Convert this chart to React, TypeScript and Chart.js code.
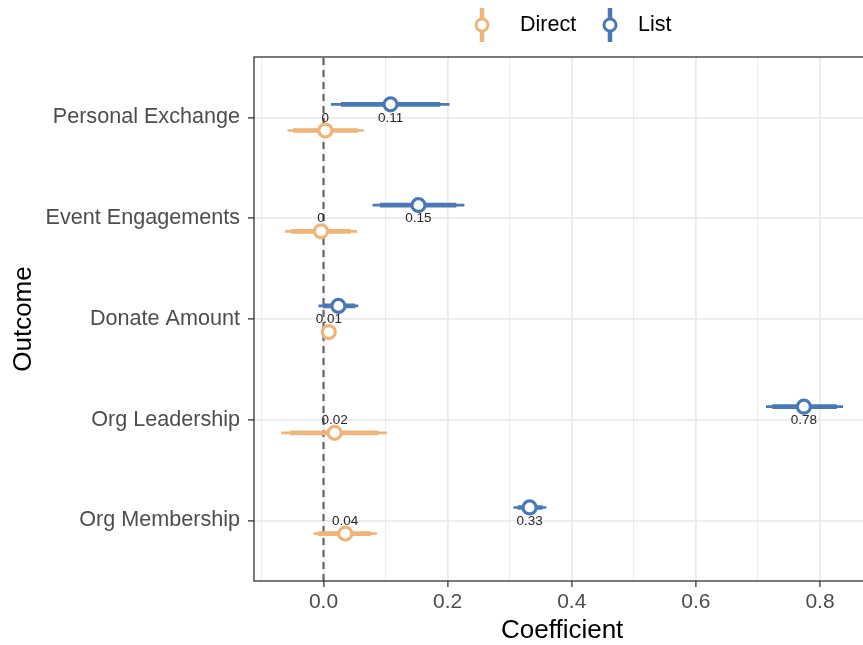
import React, { useEffect, useRef } from 'react';
import { Chart, registerables } from 'chart.js';

Chart.register(...registerables);

// ---- data (top-to-bottom order of the y axis) ----
const outcomes = ['Personal Exchange', 'Event Engagements', 'Donate Amount', 'Org Leadership', 'Org Membership'];

const listEst = [0.108, 0.153, 0.024, 0.774, 0.332];
const listLo95 = [0.012, 0.079, -0.008, 0.713, 0.306];
const listHi95 = [0.203, 0.227, 0.056, 0.837, 0.359];
const listLo90 = [0.028, 0.091, -0.001, 0.723, 0.313];
const listHi90 = [0.188, 0.214, 0.051, 0.827, 0.353];
const listLabels = ['0.11', '0.15', '', '0.78', '0.33'];

const directEst = [0.003, -0.004, 0.0085, 0.018, 0.035];
const directLo95 = [-0.058, -0.062, 0.001, -0.068, -0.016];
const directHi95 = [0.065, 0.054, 0.016, 0.102, 0.086];
const directLo90 = [-0.049, -0.052, 0.003, -0.054, -0.009];
const directHi90 = [0.055, 0.044, 0.014, 0.088, 0.076];
const directLabels = ['0', '0', '0.01', '0.02', '0.04'];

const xGridValues = [-0.1, 0, 0.1, 0.2, 0.3, 0.4, 0.5, 0.6, 0.7, 0.8];
const xMajorTicks = [0, 0.2, 0.4, 0.6, 0.8];

const seriesNames = ['Direct', 'List'];

// ---- styles ----
const BLUE = '#4A78B5';
const ORANGE = '#EFB47A';
const DODGE = 0.13;
const FONT = '"Liberation Sans", Arial, Helvetica, sans-serif';

const catY = (i: number) => outcomes.length - i;

function segments(lo: number[], hi: number[], off: number) {
  const pts: any[] = [];
  lo.forEach((l, i) => {
    const y = catY(i) + off;
    pts.push({ x: l, y }, { x: hi[i], y }, { x: null, y: null });
  });
  return pts;
}

function points(est: number[], off: number) {
  return est.map((v, i) => ({ x: v, y: catY(i) + off }));
}

const series = [
  { est: directEst, lo95: directLo95, hi95: directHi95, lo90: directLo90, hi90: directHi90, labels: directLabels, off: -DODGE, color: ORANGE },
  { est: listEst, lo95: listLo95, hi95: listHi95, lo90: listLo90, hi90: listHi90, labels: listLabels, off: DODGE, color: BLUE },
];

const isMajor = (v: number) => xMajorTicks.includes(v);

const labelPlugin = {
  id: 'estLabels',
  afterDatasetsDraw(chart: any) {
    const { ctx, scales } = chart;
    ctx.save();
    ctx.font = `13.5px ${FONT}`;
    ctx.fillStyle = '#262626';
    ctx.textAlign = 'center';
    ctx.textBaseline = 'middle';
    series.forEach((s) => {
      s.est.forEach((v, i) => {
        if (!s.labels[i]) return;
        ctx.fillText(s.labels[i], scales.x.getPixelForValue(v), scales.y.getPixelForValue(catY(i)) + 0.5);
      });
    });
    ctx.restore();
  },
};

const borderPlugin = {
  id: 'panelBorder',
  afterDraw(chart: any) {
    const { ctx, chartArea } = chart;
    ctx.save();
    ctx.strokeStyle = '#333333';
    ctx.lineWidth = 1.3;
    ctx.strokeRect(chartArea.left, chartArea.top, chartArea.right - chartArea.left, chartArea.bottom - chartArea.top);
    ctx.restore();
  },
};

function LegendSymbol({ color }: { color: string }) {
  return (
    <svg width={20} height={36} style={{ display: 'block' }}>
      <line x1={10} y1={1} x2={10} y2={35} stroke={color} strokeWidth={4.5} />
      <circle cx={10} cy={18} r={6} fill="#ffffff" stroke={color} strokeWidth={3} />
    </svg>
  );
}

export default function App() {
  const canvasRef = useRef<HTMLCanvasElement | null>(null);

  useEffect(() => {
    if (!canvasRef.current) return;
    Chart.defaults.font.family = FONT;
    const datasets: any[] = [
      {
        label: 'zero',
        data: [{ x: 0, y: 0.4 }, { x: 0, y: 5.6 }],
        showLine: true,
        borderColor: '#666666',
        borderWidth: 2.2,
        borderDash: [7, 5],
        pointRadius: 0,
        order: 5,
      },
    ];
    series.forEach((s, k) => {
      datasets.push({
        label: seriesNames[k] + ' 95',
        data: segments(s.lo95, s.hi95, s.off),
        showLine: true,
        spanGaps: false,
        borderColor: s.color,
        borderWidth: 2.6,
        pointRadius: 0,
        order: 4,
      });
      datasets.push({
        label: seriesNames[k] + ' 90',
        data: segments(s.lo90, s.hi90, s.off),
        showLine: true,
        spanGaps: false,
        borderColor: s.color,
        borderWidth: 4.6,
        pointRadius: 0,
        order: 3,
      });
      datasets.push({
        label: seriesNames[k],
        data: points(s.est, s.off),
        showLine: false,
        pointRadius: 6.5,
        pointBorderWidth: 3.2,
        pointBackgroundColor: '#ffffff',
        pointBorderColor: s.color,
        order: 1,
      });
    });

    const chart = new Chart(canvasRef.current, {
      type: 'scatter',
      data: { datasets },
      plugins: [labelPlugin, borderPlugin],
      options: {
        animation: false,
        responsive: false,
        devicePixelRatio: 1,
        layout: { padding: { top: 57, left: 0, right: 4, bottom: 0 } },
        plugins: { legend: { display: false }, tooltip: { enabled: false } },
        scales: {
          x: {
            type: 'linear',
            min: -0.112,
            max: 0.881,
            afterBuildTicks: (s: any) => {
              s.ticks = xGridValues.map((v) => ({ value: v }));
            },
            afterFit: (s: any) => {
              s.height = 64;
            },
            ticks: {
              autoSkip: false,
              maxRotation: 0,
              padding: 3,
              color: '#4D4D4D',
              font: { size: 21 },
              callback: (v: any) => (isMajor(v) ? Number(v).toFixed(1) : ''),
            },
            grid: {
              color: '#EBEBEB',
              lineWidth: (c: any) => (c.tick && isMajor(c.tick.value) ? 1.8 : 0.9),
              tickColor: (c: any) => (c.tick && isMajor(c.tick.value) ? '#333333' : 'rgba(0,0,0,0)'),
              tickLength: 6,
              tickWidth: 1.3,
            },
            border: { display: false },
            title: { display: true, text: 'Coefficient', color: '#000000', font: { size: 26 }, padding: { top: 0, bottom: -1 } },
          },
          y: {
            type: 'linear',
            min: 0.4,
            max: 5.6,
            afterBuildTicks: (s: any) => {
              s.ticks = outcomes.map((_, i) => ({ value: catY(i) })).reverse();
            },
            afterFit: (s: any) => {
              s.width = 254;
            },
            ticks: {
              autoSkip: false,
              padding: 8,
              color: '#4D4D4D',
              font: { size: 21.6 },
              callback: (v: any) => outcomes[outcomes.length - Number(v)],
            },
            grid: {
              color: '#EBEBEB',
              lineWidth: 1.8,
              tickColor: '#333333',
              tickLength: 6,
              tickWidth: 1.3,
            },
            border: { display: false },
            title: { display: true, text: 'Outcome', color: '#000000', font: { size: 26 }, padding: { top: 8, bottom: 0 } },
          },
        },
      } as any,
    });
    return () => chart.destroy();
  }, []);

  const legendText: React.CSSProperties = {
    position: 'absolute',
    top: 14,
    fontFamily: FONT,
    fontSize: 21.5,
    lineHeight: '21px',
    color: '#000',
    whiteSpace: 'nowrap',
  };

  return (
    <div style={{ position: 'absolute', left: 0, top: 0, width: 863, height: 645, overflow: 'hidden', background: '#fff' }}>
      <canvas ref={canvasRef} width={880} height={645} style={{ position: 'absolute', left: 0, top: 0 }} />
      <div style={{ position: 'absolute', left: 472, top: 7 }}>
        <LegendSymbol color={ORANGE} />
      </div>
      <span style={{ ...legendText, left: 520 }}>{seriesNames[0]}</span>
      <div style={{ position: 'absolute', left: 600, top: 7 }}>
        <LegendSymbol color={BLUE} />
      </div>
      <span style={{ ...legendText, left: 638 }}>{seriesNames[1]}</span>
    </div>
  );
}
